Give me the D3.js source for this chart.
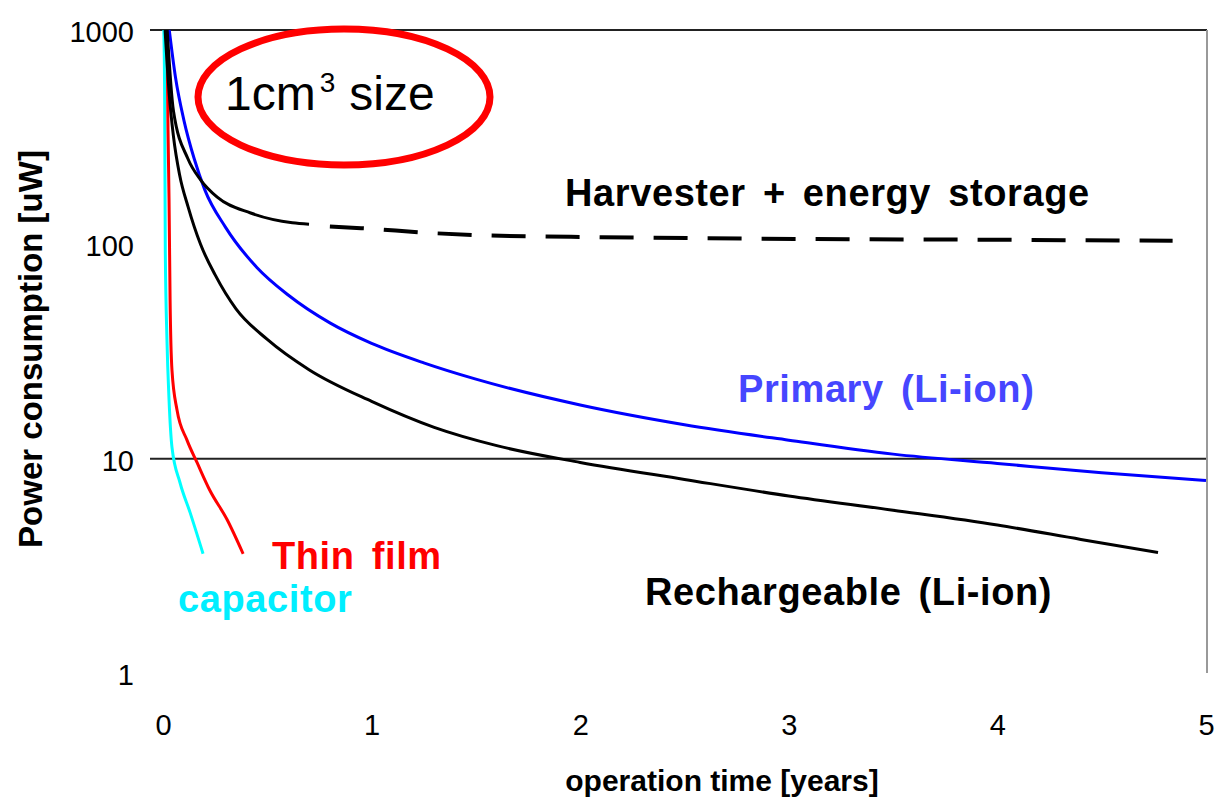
<!DOCTYPE html>
<html>
<head>
<meta charset="utf-8">
<script src="https://cdn.jsdelivr.net/npm/d3@7"></script>
<style>
  html, body { margin: 0; padding: 0; background: #fff; }
  svg { display: block; font-family: "Liberation Sans", Arial, sans-serif; }
  .tick text { fill: #000; }
</style>
</head>
<body>
<div id="chart"></div>
<script>
// data (t in years, power in uW)
const xTicks = [0, 1, 2, 3, 4, 5];
const yTicks = [1, 10, 100, 1000];
const gridValues = [10, 1000];

const capacitorT = [0.004, 0.008, 0.011, 0.019, 0.029, 0.043, 0.082, 0.13, 0.192];
const capacitorV = [1000, 471, 94, 35.8, 18.8, 11.3, 7.7, 5.6, 3.6];

const thinFilmT = [0.019, 0.024, 0.029, 0.034, 0.043, 0.067, 0.115, 0.163, 0.225, 0.307, 0.384];
const thinFilmV = [1000, 341, 161, 55, 25.9, 16.9, 12.2, 9.6, 7.1, 5.2, 3.6];

const primaryT = [0.03, 0.06, 0.1, 0.15, 0.2, 0.3, 0.45, 0.6, 0.8, 1.0, 1.25, 1.5, 2.0, 2.5, 3.0, 3.5, 4.0, 4.5, 5.0];
const primaryV = [1000, 600, 380, 250, 180, 120, 78, 58, 43, 34.5, 28, 23.5, 17.8, 14.4, 12.2, 10.5, 9.5, 8.6, 7.9];

const rechargeT = [0.01, 0.03, 0.05, 0.08, 0.12, 0.18, 0.25, 0.35, 0.5, 0.7, 1.0, 1.3, 1.6, 2.0, 2.5, 3.0, 3.5, 4.0, 4.4, 4.77];
const rechargeV = [1000, 500, 320, 210, 150, 100, 72, 50, 36, 26, 18.5, 14, 11.5, 9.6, 8.0, 6.7, 5.75, 4.9, 4.2, 3.65];

const harvesterT = [0.02, 0.05, 0.12, 0.18, 0.26, 0.42, 0.62, 0.7];
const harvesterV = [1000, 420, 250, 200, 166, 140, 126, 124];
const harvesterDashT = [0.8, 0.95, 1.28, 1.55, 2.1, 3.05, 4.0, 4.84];
const harvesterDashV = [121, 119, 113, 110, 108, 106, 105, 104];

const W = 1216, H = 799;

const x = d3.scaleLinear().domain([0, 5]).range([163, 1206]);
const y = d3.scaleLog().domain([1, 1000]).range([673, 30]);

const svg = d3.select('#chart').append('svg')
  .attr('width', W)
  .attr('height', H);

// grid + frame
svg.selectAll('line.grid')
  .data(gridValues)
  .enter().append('line')
  .attr('class', 'grid')
  .attr('x1', 150)
  .attr('x2', x(5) + 1)
  .attr('y1', d => y(d))
  .attr('y2', d => y(d))
  .attr('stroke', '#222')
  .attr('stroke-width', 2);

svg.append('line')
  .attr('x1', x(5) + 1).attr('x2', x(5) + 1)
  .attr('y1', y(1000)).attr('y2', y(1))
  .attr('stroke', '#999')
  .attr('stroke-width', 2);

// axes
const yAxis = d3.axisLeft(y)
  .tickValues(yTicks)
  .tickFormat(d3.format('d'))
  .tickSize(0)
  .tickPadding(16);

const yAxisG = svg.append('g')
  .attr('transform', 'translate(150,0)')
  .call(yAxis);
yAxisG.select('.domain').remove();
yAxisG.selectAll('text')
  .attr('dy', '0.4em')
  .style('font-size', '29px');

const xAxis = d3.axisBottom(x)
  .tickValues(xTicks)
  .tickFormat(d3.format('d'))
  .tickSize(0)
  .tickPadding(41);

const xAxisG = svg.append('g')
  .attr('transform', `translate(0,${y(1)})`)
  .call(xAxis);
xAxisG.select('.domain').remove();
xAxisG.selectAll('text')
  .style('font-size', '29px');

svg.append('text')
  .attr('x', 722)
  .attr('y', 791)
  .attr('text-anchor', 'middle')
  .style('font-size', '30px')
  .style('font-weight', 'bold')
  .text('operation time [years]');

svg.append('text')
  .attr('transform', 'translate(42,349) rotate(-90)')
  .attr('text-anchor', 'middle')
  .style('font-size', '33px')
  .style('font-weight', 'bold')
  .text('Power consumption [uW]');

// curves
const line = d3.line()
  .x(d => x(d[0]))
  .y(d => y(d[1]))
  .curve(d3.curveMonotoneX);

const series = [
  {t: capacitorT, v: capacitorV, color: '#00ffff', dash: null},
  {t: thinFilmT, v: thinFilmV, color: '#ff0000', dash: null},
  {t: primaryT, v: primaryV, color: '#0000ff', dash: null},
  {t: rechargeT, v: rechargeV, color: '#000', dash: null},
  {t: harvesterT, v: harvesterV, color: '#000', dash: null},
  {t: harvesterDashT, v: harvesterDashV, color: '#000', dash: '34,20'}
];

svg.selectAll('path.series')
  .data(series)
  .enter().append('path')
  .attr('class', 'series')
  .attr('d', s => line(s.t.map((t, i) => [t, s.v[i]])))
  .attr('fill', 'none')
  .attr('stroke', s => s.color)
  .attr('stroke-width', s => s.dash ? 4 : 3)
  .attr('stroke-dasharray', s => s.dash);

// labels
const labels = [
  {text: 'Harvester + energy storage', x: 565, y: 206, color: '#000'},
  {text: 'Primary (Li-ion)', x: 738, y: 402, color: '#4646ff'},
  {text: 'Rechargeable (Li-ion)', x: 645, y: 605, color: '#000'},
  {text: 'Thin film', x: 272, y: 569, color: '#ff0000'},
  {text: 'capacitor', x: 178, y: 612, color: '#00eeff'}
];

svg.selectAll('text.label')
  .data(labels)
  .enter().append('text')
  .attr('class', 'label')
  .attr('x', d => d.x)
  .attr('y', d => d.y)
  .attr('fill', d => d.color)
  .style('font-size', '38px')
  .style('font-weight', 'bold')
  .style('letter-spacing', '0.6px')
  .style('word-spacing', '6px')
  .text(d => d.text);

// 1cm3 size bubble
svg.append('ellipse')
  .attr('cx', 344)
  .attr('cy', 97)
  .attr('rx', 146)
  .attr('ry', 68)
  .attr('fill', 'none')
  .attr('stroke', '#ff0000')
  .attr('stroke-width', 7);

const size = svg.append('text')
  .attr('x', 225)
  .attr('y', 110)
  .style('font-size', '48px');
size.append('tspan').text('1cm');
size.append('tspan')
  .attr('dy', -18)
  .attr('dx', 4)
  .style('font-size', '28px')
  .text('3');
size.append('tspan')
  .attr('dy', 18)
  .attr('dx', 14)
  .text('size');
</script>
</body>
</html>
